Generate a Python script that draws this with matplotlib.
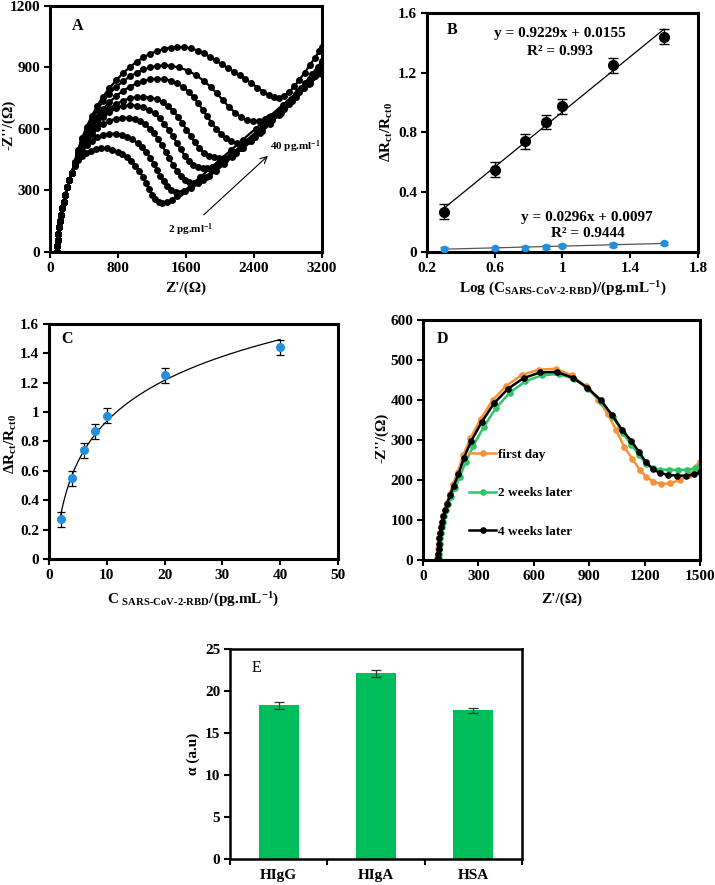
import matplotlib
matplotlib.use('Agg')
import matplotlib.pyplot as plt
import numpy as np

plt.rcParams['font.family'] = ['Liberation Serif', 'DejaVu Serif']
plt.rcParams['font.weight'] = 'bold'
plt.rcParams['axes.labelweight'] = 'bold'
plt.rcParams['mathtext.fontset'] = 'custom'
plt.rcParams['mathtext.rm'] = 'Liberation Serif:bold'
plt.rcParams['mathtext.it'] = 'Liberation Serif:bold'
plt.rcParams['mathtext.bf'] = 'Liberation Serif:bold'
plt.rcParams['mathtext.default'] = 'rm'

# ---------------- Panel A data (Nyquist plots, 8 curves) ----------------
A_start_x = [85, 88, 92, 98, 106, 116, 128, 143, 160, 180, 203, 228, 256]
A_start_y = [0, 30, 60, 90, 120, 150, 180, 212, 245, 280, 315, 350, 385]

A_c1_x = [290, 330, 375, 425, 480, 540, 605, 670, 735, 795, 850, 905, 955, 1005, 1050, 1092, 1130, 1165, 1200, 1237,
          1278, 1322, 1372, 1430, 1500, 1580, 1670, 1770, 1880, 2000, 2130, 2270, 2420, 2580, 2740, 2900, 3060, 3200]
A_c1_y = [420, 448, 468, 483, 494, 501, 505, 505, 499, 489, 476, 461, 443, 421, 396, 367, 337, 307, 280, 257,
          243, 238, 242, 254, 273, 298, 330, 366, 406, 450, 497, 548, 602, 660, 718, 772, 825, 868]

A_c2_x = [290, 330, 378, 430, 490, 555, 625, 700, 775, 845, 910, 970, 1030, 1085, 1135, 1180, 1222, 1262, 1300, 1340,
          1382, 1428, 1478, 1530, 1590, 1660, 1740, 1830, 1930, 2040, 2160, 2290, 2430, 2580, 2740, 2900, 3060, 3200]
A_c2_y = [425, 460, 492, 520, 543, 560, 571, 576, 577, 572, 563, 550, 532, 512, 488, 460, 430, 400, 372, 346,
          322, 303, 291, 289, 295, 312, 336, 366, 401, 441, 486, 535, 588, 645, 705, 764, 822, 875]

A_c3_x = [290, 330, 378, 430, 490, 555, 625, 700, 775, 850, 925, 995, 1060, 1120, 1175, 1225, 1272, 1318, 1362, 1405,
          1448, 1492, 1540, 1590, 1640, 1692, 1745, 1805, 1875, 1955, 2045, 2145, 2255, 2375, 2505, 2645, 2795, 2950,
          3100, 3200]
A_c3_y = [428, 470, 510, 545, 577, 603, 624, 640, 650, 655, 654, 648, 637, 622, 602, 578, 550, 520, 488, 456,
          425, 396, 370, 350, 339, 336, 341, 352, 370, 395, 427, 465, 509, 558, 612, 670, 733, 798, 860, 900]

A_c4_x = [290, 330, 378, 430, 490, 555, 625, 700, 780, 860, 940, 1020, 1095, 1165, 1230, 1290, 1345, 1396, 1445, 1492,
          1538, 1585, 1635, 1688, 1742, 1795, 1850, 1910, 1980, 2060, 2150, 2250, 2360, 2480, 2610, 2750, 2900, 3050,
          3200]
A_c4_y = [430, 475, 518, 556, 592, 627, 657, 681, 700, 712, 716, 714, 707, 694, 676, 653, 626, 596, 564, 532,
          500, 470, 444, 425, 413, 409, 410, 416, 428, 448, 475, 508, 547, 592, 642, 697, 757, 818, 880]

A_c5_x = [290, 330, 378, 430, 490, 555, 625, 700, 780, 860, 940, 1020, 1100, 1180, 1255, 1325, 1390, 1450, 1505, 1557,
          1606, 1655, 1705, 1757, 1812, 1870, 1930, 1990, 2050, 2115, 2190, 2275, 2370, 2475, 2590, 2715, 2850, 2990,
          3120, 3200]
A_c5_y = [432, 480, 525, 565, 604, 640, 672, 700, 722, 738, 749, 755, 756, 753, 745, 731, 712, 688, 660, 629,
          597, 565, 534, 506, 484, 469, 461, 458, 460, 467, 481, 506, 540, 580, 627, 680, 738, 799, 856, 892]

A_c6_x = [290, 330, 378, 430, 490, 555, 625, 700, 780, 860, 940, 1020, 1100, 1180, 1260, 1340, 1420, 1495, 1565, 1630,
          1690, 1745, 1797, 1848, 1900, 1955, 2012, 2072, 2135, 2200, 2265, 2335, 2410, 2495, 2590, 2695, 2810, 2935,
          3065, 3200]
A_c6_y = [433, 483, 531, 575, 618, 659, 697, 731, 761, 786, 806, 822, 834, 842, 845, 843, 836, 823, 805, 782,
          755, 725, 694, 662, 631, 602, 576, 554, 539, 531, 532, 542, 560, 588, 625, 670, 722, 780, 845, 915]

A_c7_x = [290, 330, 378, 430, 490, 555, 625, 700, 780, 860, 940, 1020, 1100, 1180, 1260, 1340, 1420, 1520, 1620, 1720,
          1810, 1890, 1965, 2035, 2105, 2175, 2245, 2315, 2385, 2455, 2525, 2600, 2680, 2760, 2840, 2920, 3000, 3080,
          3150, 3200]
A_c7_y = [438, 494, 550, 600, 648, 693, 735, 772, 805, 833, 856, 875, 890, 900, 907, 910, 908, 900, 885, 862,
          835, 805, 773, 740, 708, 680, 658, 644, 638, 640, 648, 663, 685, 714, 748, 785, 825, 866, 904, 930]

A_c8_x = [290, 330, 378, 430, 490, 555, 625, 700, 780, 860, 940, 1020, 1100, 1180, 1260, 1340, 1420, 1500, 1580, 1660,
          1740, 1815, 1885, 1950, 2020, 2090, 2160, 2230, 2300, 2370, 2440, 2510, 2575, 2635, 2695, 2755, 2815, 2875,
          2935, 2995, 3055, 3115, 3170, 3200]
A_c8_y = [440, 498, 556, 610, 662, 712, 758, 800, 838, 872, 902, 928, 950, 967, 980, 990, 997, 1000, 999, 993,
          982, 968, 951, 934, 916, 897, 880, 862, 843, 823, 802, 782, 765, 755, 752, 760, 780, 808, 840, 874,
          910, 946, 981, 1000]

A_curves_x = [A_c1_x, A_c2_x, A_c3_x, A_c4_x, A_c5_x, A_c6_x, A_c7_x, A_c8_x]
A_curves_y = [A_c1_y, A_c2_y, A_c3_y, A_c4_y, A_c5_y, A_c6_y, A_c7_y, A_c8_y]
A_xticks = [0, 800, 1600, 2400, 3200]
A_yticks = [0, 300, 600, 900, 1200]

# ---------------- Panels B / C data ----------------
conc = [2, 4, 6, 8, 10, 20, 40]
log_conc = [0.30, 0.60, 0.78, 0.90, 1.00, 1.30, 1.60]
resp = [0.27, 0.55, 0.74, 0.87, 0.975, 1.25, 1.44]
resp_err = [0.05, 0.05, 0.05, 0.05, 0.05, 0.05, 0.05]
ctrl = [0.018, 0.024, 0.028, 0.034, 0.043, 0.048, 0.057]
ctrl_err = [0.012, 0.012, 0.012, 0.012, 0.012, 0.012, 0.012]
fit1 = [0.9229, 0.0155]
fit2 = [0.0296, 0.0097]
B_xticks = [0.2, 0.6, 1.0, 1.4, 1.8]
B_xticklabels = ['0.2', '0.6', '1', '1.4', '1.8']
B_yticks = [0, 0.4, 0.8, 1.2, 1.6]
B_yticklabels = ['0', '0.4', '0.8', '1.2', '1.6']
C_xticks = [0, 10, 20, 30, 40, 50]
C_yticks = [0, 0.2, 0.4, 0.6, 0.8, 1.0, 1.2, 1.4, 1.6]
C_yticklabels = ['0', '0.2', '0.4', '0.6', '0.8', '1', '1.2', '1.4', '1.6']

# ---------------- Panel D data (stability) ----------------
D_day1_x = [78, 80, 82, 84, 87, 91, 96, 102, 109, 118, 129, 144, 163, 188, 218, 257, 312, 378, 452, 537,
            628, 720, 805, 882, 950, 1000, 1045, 1090, 1133, 1173, 1209, 1248, 1290, 1340, 1390, 1440, 1486, 1500]
D_day1_y = [5, 15, 27, 40, 54, 68, 82, 96, 110, 125, 142, 165, 190, 220, 262, 305, 352, 400, 436, 463,
            476, 478, 462, 434, 400, 365, 326, 283, 253, 226, 208, 196, 190, 192, 200, 212, 236, 245]
D_wk2_x = [84, 86, 88, 90, 93, 97, 102, 108, 116, 125, 137, 153, 174, 200, 231, 272, 328, 395, 470, 555,
           645, 735, 818, 896, 966, 1028, 1082, 1128, 1170, 1208, 1245, 1285, 1330, 1380, 1430, 1475, 1500]
D_wk2_y = [5, 15, 27, 40, 54, 68, 82, 96, 110, 124, 139, 158, 181, 208, 245, 285, 332, 380, 418, 447,
           462, 465, 453, 428, 396, 358, 318, 288, 262, 241, 230, 226, 226, 225, 226, 229, 235]
D_wk4_x = [80, 82, 84, 86, 89, 93, 98, 104, 111, 120, 131, 146, 166, 192, 222, 262, 318, 385, 460, 545,
           635, 725, 810, 890, 962, 1025, 1080, 1128, 1170, 1208, 1245, 1282, 1325, 1375, 1425, 1470, 1500]
D_wk4_y = [5, 15, 27, 40, 54, 68, 82, 96, 110, 125, 141, 162, 186, 214, 256, 298, 345, 392, 428, 455,
           469, 470, 456, 431, 400, 362, 324, 298, 270, 244, 227, 218, 213, 211, 211, 214, 220]
D_labels = ['first day', '2 weeks later', '4 weeks later']
D_colors = ['#F7923A', '#2EC46C', '#000000']
D_xticks = [0, 300, 600, 900, 1200, 1500]
D_yticks = [0, 100, 200, 300, 400, 500, 600]

# ---------------- Panel E data (selectivity) ----------------
E_cats = ['HIgG', 'HIgA', 'HSA']
E_vals = [18.3, 22.1, 17.7]
E_err = [0.4, 0.4, 0.3]
E_yticks = [0, 5, 10, 15, 20, 25]

FS = 11
BLUE = '#2390DE'

fig = plt.figure(figsize=(7.15, 8.85), dpi=100)


def style(ax, lw=2.2):
    for s in ax.spines.values():
        s.set_linewidth(lw)
        s.set_color('black')
    ax.tick_params(direction='out', length=4, width=1.5, labelsize=FS, pad=3, colors='black')


# ---- A ----
axA = fig.add_axes([0.0699, 0.7153, 0.3804, 0.278])
for cx, cy in zip(A_curves_x, A_curves_y):
    axA.plot(A_start_x + cx, A_start_y + cy, '-o', color='black', lw=1.6, ms=5.0, mew=0)
axA.set_xlim(0, 3200)
axA.set_ylim(0, 1200)
axA.set_xticks(A_xticks)
axA.set_yticks(A_yticks)
style(axA)
axA.set_xlabel("Z'/(Ω)", fontsize=FS)
axA.set_ylabel("-Z''/(Ω)", fontsize=FS)
axA.xaxis.set_label_coords(0.5, -0.12)
axA.yaxis.set_label_coords(-0.125, 0.516)
axA.text(0.08, 0.92, 'A', transform=axA.transAxes, fontsize=11.5, ha='left', va='center')
axA.annotate('', xy=(2588, 478), xytext=(1785, 172),
             arrowprops=dict(arrowstyle='->', color='black', lw=0.8, mutation_scale=12))
axA.text(2590, 514, '40 pg.ml$^{-1}$', fontsize=8, ha='left', va='center')
axA.text(1392, 107, '2 pg.ml$^{-1}$', fontsize=8, ha='left', va='center')

# ---- B ----
axB = fig.add_axes([0.5972, 0.7153, 0.379, 0.270])
xx = np.array([log_conc[0], log_conc[-1]])
axB.plot(xx, fit1[0] * xx + fit1[1], color='black', lw=0.9, zorder=2)
axB.plot(xx, fit2[0] * xx + fit2[1], color='#555555', lw=0.9, zorder=2)
axB.errorbar(log_conc, resp, yerr=resp_err, fmt='o', color='black', ms=7, capsize=3.5,
             elinewidth=1.0, capthick=1.0, ecolor='black', zorder=3)
axB.errorbar(log_conc, ctrl, yerr=ctrl_err, fmt='o', color=BLUE, ms=4.5, capsize=3,
             elinewidth=1.0, capthick=1.0, ecolor='#1F5F9F', zorder=3)
axB.set_xlim(0.2, 1.8)
axB.set_ylim(0, 1.6)
axB.set_xticks(B_xticks)
axB.set_xticklabels(B_xticklabels)
axB.set_yticks(B_yticks)
axB.set_yticklabels(B_yticklabels)
style(axB)
axB.set_xlabel('Log (C$_{SARS\u2010CoV\u20102\u2010RBD}$)/(pg.mL$^{-1}$)', fontsize=FS)
axB.set_ylabel('ΔR$_{ct}$/R$_{ct0}$', fontsize=FS)
axB.xaxis.set_label_coords(0.5, -0.115)
axB.yaxis.set_label_coords(-0.118, 0.5)
axB.text(0.073, 0.93, 'B', transform=axB.transAxes, fontsize=11.5, ha='left', va='center')
axB.text(0.985, 1.466, 'y = 0.9229x + 0.0155', fontsize=FS, ha='center', va='center')
axB.text(0.985, 1.341, 'R² = 0.993', fontsize=FS, ha='center', va='center')
axB.text(1.143, 0.232, 'y = 0.0296x + 0.0097', fontsize=FS, ha='center', va='center')
axB.text(1.152, 0.125, 'R² = 0.9444', fontsize=FS, ha='center', va='center')

# ---- C ----
axC = fig.add_axes([0.0685, 0.3684, 0.404, 0.2655])
xc = np.linspace(conc[0], conc[-1], 200)
axC.plot(xc, fit1[0] * np.log10(xc) + fit1[1], color='black', lw=0.9, zorder=2)
axC.errorbar(conc, resp, yerr=resp_err, fmt='o', color=BLUE, ms=5.5, capsize=3,
             elinewidth=0.9, capthick=0.9, ecolor='black', zorder=3)
axC.set_xlim(0, 50)
axC.set_ylim(0, 1.6)
axC.set_xticks(C_xticks)
axC.set_yticks(C_yticks)
axC.set_yticklabels(C_yticklabels)
style(axC)
axC.set_xlabel('C $_{SARS\u2010CoV\u20102\u2010RBD}$/(pg.mL$^{-1}$)', fontsize=FS)
axC.set_ylabel('ΔR$_{ct}$/R$_{ct0}$', fontsize=FS)
axC.xaxis.set_label_coords(0.5, -0.135)
axC.yaxis.set_label_coords(-0.105, 0.49)
axC.text(0.044, 0.935, 'C', transform=axC.transAxes, fontsize=11.5, ha='left', va='center')

# ---- D ----
axD = fig.add_axes([0.5916, 0.3672, 0.3874, 0.2712])
for dx, dy, lab, col in zip([D_day1_x, D_wk2_x, D_wk4_x], [D_day1_y, D_wk2_y, D_wk4_y], D_labels, D_colors):
    axD.plot(dx, dy, '-o', color=col, lw=1.8, ms=4.8, mew=0, label=lab)
axD.set_xlim(0, 1500)
axD.set_ylim(0, 600)
axD.set_xticks(D_xticks)
axD.set_yticks(D_yticks)
style(axD)
axD.set_xlabel("Z'/(Ω)", fontsize=FS)
axD.set_ylabel("-Z''/(Ω)", fontsize=FS)
axD.xaxis.set_label_coords(0.5, -0.135)
axD.yaxis.set_label_coords(-0.126, 0.51)
axD.text(0.05, 0.92, 'D', transform=axD.transAxes, fontsize=11.5, ha='left', va='center')
axD.legend(loc='upper left', bbox_to_anchor=(0.165, 0.465), frameon=False, fontsize=9.5,
           handlelength=2.1, handletextpad=0.15, labelspacing=2.0, borderpad=0, borderaxespad=0,
           numpoints=1)

# ---- E ----
axE = fig.add_axes([0.3217, 0.0294, 0.4084, 0.2373])
pos = np.arange(len(E_cats))
axE.bar(pos, E_vals, width=0.41, color='#00BD5C', yerr=E_err, capsize=3.5,
        error_kw=dict(elinewidth=0.9, capthick=0.9, ecolor='#333333'))
axE.set_xlim(-0.5, 2.5)
axE.set_ylim(0, 25)
axE.set_yticks(E_yticks)
axE.set_xticks(pos)
axE.set_xticklabels(E_cats)
axE.set_xticks([-0.5, 0.5, 1.5, 2.5], minor=True)
style(axE, lw=1.8)
axE.tick_params(axis='x', which='major', length=0, pad=7)
axE.tick_params(axis='x', which='minor', direction='out', length=4, width=1.5)
axE.set_ylabel('α (a.u)', fontsize=FS)
axE.yaxis.set_label_coords(-0.103, 0.5)
axE.text(0.074, 0.908, 'E', transform=axE.transAxes, fontsize=11.5, ha='left', va='center',
         fontweight='normal')

fig.savefig('out.png', dpi=100)
